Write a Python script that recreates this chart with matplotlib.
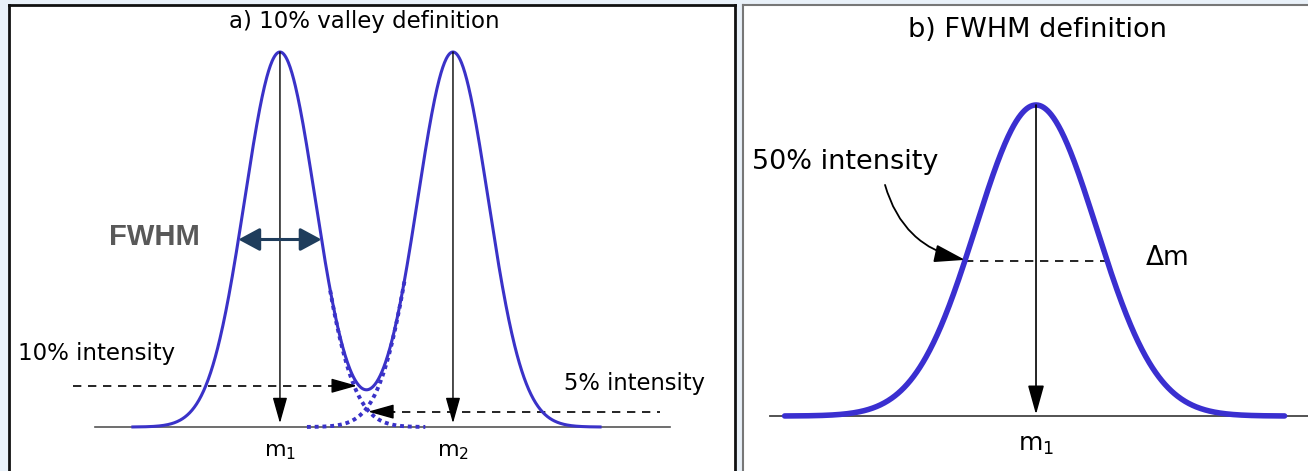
import numpy as np
import matplotlib
matplotlib.use("Agg")
import matplotlib.pyplot as plt

# ---------------- data ----------------
# panel a: two resolved peaks (10% valley)
peak_centers_a = [100.0, 101.0]      # m1, m2
peak_heights_a = [100.0, 100.0]      # % intensity
peak_sigma_a = 0.204
curve_range_a = [99.15, 101.85]
tail1_range = [100.29, 100.84]       # dotted continuation of peak 1
tail2_range = [100.156, 100.72]      # dotted continuation of peak 2
valley_level = 11.0                  # 10% intensity line
cross_level = 4.1                    # 5% intensity line
fwhm_level = 50.0
peak_labels_a = ["m$_1$", "m$_2$"]

# panel b: single peak (FWHM)
peak_center_b = 100.0
peak_height_b = 100.0
fwhm_b = 1.0
curve_range_b = [98.23, 101.75]
peak_label_b = "m$_1$"

BLUE = "#3a32c8"
NAVY = "#1f3d5c"

def gauss(x, c, h, s):
    return h * np.exp(-(x - c) ** 2 / (2 * s ** 2))

W, H = 1308, 471
fig = plt.figure(figsize=(W / 100, H / 100), dpi=100)
fig.patch.set_facecolor("#e9f1f9")
plt.rcParams["mathtext.default"] = "regular"

# ---------------- panel a ----------------
axa = fig.add_axes([9 / W, 0, 726 / W, (H - 5) / H])
axa.set_xlim(98.434, 102.630)
axa.set_ylim(-11.73, 112.53)
axa.set_xticks([]); axa.set_yticks([])
axa.spines["bottom"].set_visible(False)
for s in ["left", "top", "right"]:
    axa.spines[s].set_linewidth(2.0)
    axa.spines[s].set_color("#111111")

axa.plot([98.93, 102.254], [0, 0], color="#555555", lw=1.2, zorder=1)

xa = np.linspace(curve_range_a[0], curve_range_a[1], 800)
ya = sum(gauss(xa, c, h, peak_sigma_a) for c, h in zip(peak_centers_a, peak_heights_a))
axa.plot(xa, ya, color=BLUE, lw=2.2, zorder=3)

t1 = np.linspace(tail1_range[0], tail1_range[1], 200)
axa.plot(t1, gauss(t1, peak_centers_a[0], peak_heights_a[0], peak_sigma_a),
         color=BLUE, lw=2.8, ls=(0, (1, 1)), zorder=3)
t2 = np.linspace(tail2_range[0], tail2_range[1], 200)
axa.plot(t2, gauss(t2, peak_centers_a[1], peak_heights_a[1], peak_sigma_a),
         color=BLUE, lw=2.8, ls=(0, (1, 1)), zorder=3)

head = "-|>,head_length=1.6,head_width=0.45"
for c, h in zip(peak_centers_a, peak_heights_a):
    axa.annotate("", xy=(c, 1.0), xytext=(c, h),
                 arrowprops=dict(arrowstyle=head, color="black", lw=1.0,
                                 shrinkA=0, shrinkB=0, mutation_scale=10), zorder=4)

# 10% valley dashed arrow
axa.plot([98.803, 100.33], [valley_level] * 2, color="black", lw=1.2, ls=(0, (5, 4)))
axa.annotate("", xy=(100.445, valley_level), xytext=(100.30, valley_level),
             arrowprops=dict(arrowstyle=head, color="black", lw=1.0,
                             shrinkA=0, shrinkB=0, mutation_scale=10), zorder=4)
# 5% dashed arrow
axa.plot([100.62, 102.197], [cross_level] * 2, color="black", lw=1.2, ls=(0, (5, 4)))
axa.annotate("", xy=(100.51, cross_level), xytext=(100.66, cross_level),
             arrowprops=dict(arrowstyle=head, color="black", lw=1.0,
                             shrinkA=0, shrinkB=0, mutation_scale=10), zorder=4)

# FWHM double arrow
hw = 1.1774 * peak_sigma_a
axa.annotate("", xy=(peak_centers_a[0] + hw, fwhm_level),
             xytext=(peak_centers_a[0] - hw, fwhm_level),
             arrowprops=dict(arrowstyle="<|-|>,head_length=1.3,head_width=0.7",
                             color=NAVY, lw=2.2, shrinkA=0, shrinkB=0,
                             mutation_scale=10), zorder=5)
axa.text(99.277, 50.7, "FWHM", ha="center", va="center", fontsize=21,
         fontweight="bold", color="#595959", family="Liberation Sans")

axa.text(100.486, 108, "a) 10% valley definition", ha="center", va="center", fontsize=16.5)
axa.text(98.486, 19.7, "10% intensity", ha="left", va="center", fontsize=16.5)
axa.text(101.642, 11.7, "5% intensity", ha="left", va="center", fontsize=16.3)
for c, lab in zip(peak_centers_a, peak_labels_a):
    axa.text(c, -6.7, lab, ha="center", va="center", fontsize=16)

# ---------------- panel b ----------------
axb = fig.add_axes([743 / W, 0, (W - 743) / W, (H - 5) / H])
axb.set_xlim(97.937, 101.915)
axb.set_ylim(-17.68, 132.15)
axb.set_xticks([]); axb.set_yticks([])
for s in ["bottom", "right"]:
    axb.spines[s].set_visible(False)
for s in ["left", "top"]:
    axb.spines[s].set_linewidth(1.5)
    axb.spines[s].set_color("#777777")

sig_b = fwhm_b / 2.3548
axb.plot([98.13, 102.0], [0, 0], color="#444444", lw=1.3, zorder=1)
xb = np.linspace(curve_range_b[0], curve_range_b[1], 800)
axb.plot(xb, gauss(xb, peak_center_b, peak_height_b, sig_b), color="#3a2fd0", lw=4.0, zorder=3,
         solid_capstyle="round")
axb.plot([peak_center_b - fwhm_b / 2, peak_center_b + fwhm_b / 2], [50, 50],
         color="black", lw=1.2, ls=(0, (5, 4)), zorder=2)
axb.annotate("", xy=(peak_center_b, 0.5), xytext=(peak_center_b, peak_height_b),
             arrowprops=dict(arrowstyle="-|>,head_length=1.8,head_width=0.5", color="black",
                             lw=1.2, shrinkA=0, shrinkB=0, mutation_scale=10), zorder=4)
axb.annotate("", xy=(peak_center_b - fwhm_b / 2, 50.2), xytext=(98.937, 74.3),
             arrowprops=dict(arrowstyle="-|>,head_length=1.9,head_width=0.55", color="black",
                             lw=1.3, shrinkA=0, shrinkB=0, mutation_scale=10,
                             connectionstyle="arc3,rad=0.3"), zorder=4)

axb.text(100.007, 124.1, "b) FWHM definition", ha="center", va="center", fontsize=19.5)
axb.text(98.0, 81.7, "50% intensity", ha="left", va="center", fontsize=19.5)
axb.text(100.775, 50.8, "Δm", ha="left", va="center", fontsize=19)
axb.text(peak_center_b, -9.3, peak_label_b, ha="center", va="center", fontsize=18)

fig.savefig("out.png", dpi=100, facecolor=fig.get_facecolor())
